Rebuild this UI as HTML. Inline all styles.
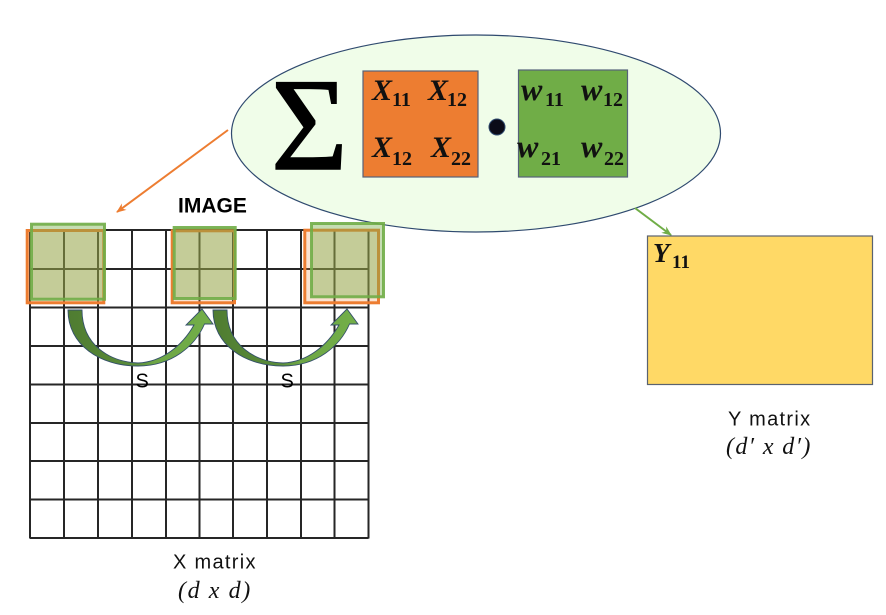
<!DOCTYPE html>
<html><head><meta charset="utf-8"><style>
html,body{margin:0;padding:0;background:#fff;}
svg{display:block;}
</style></head><body>
<svg width="886" height="615" viewBox="0 0 886 615" xmlns="http://www.w3.org/2000/svg">
<defs>
<linearGradient id="ag" x1="0" y1="0" x2="1" y2="0">
<stop offset="0" stop-color="#4f7c31"/><stop offset="0.45" stop-color="#5a8c3a"/><stop offset="0.6" stop-color="#6ea646"/><stop offset="1" stop-color="#72af48"/>
</linearGradient>
<marker id="mo" markerWidth="10" markerHeight="8" refX="9" refY="4" orient="auto" markerUnits="userSpaceOnUse"><path d="M0,0 L10,4 L0,8 L3,4 Z" fill="#ed7d31"/></marker>
<marker id="mg" markerWidth="10" markerHeight="8" refX="9" refY="4" orient="auto" markerUnits="userSpaceOnUse"><path d="M0,0 L10,4 L0,8 L3,4 Z" fill="#70ad47"/></marker>
</defs>

<!-- ellipse -->
<ellipse cx="476" cy="133.5" rx="244.5" ry="98.5" fill="#f0fde9" stroke="#2f4a6f" stroke-width="1.2"/>

<!-- sigma -->
<text x="271" y="169" font-family="Liberation Serif, serif" font-size="132" fill="#000" stroke="#000" stroke-width="1.5">Σ</text>

<!-- orange box -->
<rect x="363" y="71" width="115" height="106" fill="#ed7d31" stroke="#56627a" stroke-width="1.2"/>
<g font-family="Liberation Serif, serif" fill="#111">
<text x="372" y="100" font-size="30" font-weight="bold" font-style="italic">X</text>
<text x="392" y="106" font-size="20" font-weight="bold">11</text>
<text x="428" y="100" font-size="30" font-weight="bold" font-style="italic">X</text>
<text x="447" y="106" font-size="20" font-weight="bold">12</text>
<text x="372" y="157" font-size="30" font-weight="bold" font-style="italic">X</text>
<text x="392" y="165" font-size="20" font-weight="bold">12</text>
<text x="431" y="157" font-size="30" font-weight="bold" font-style="italic">X</text>
<text x="451" y="165" font-size="20" font-weight="bold">22</text>
</g>

<!-- dot -->
<circle cx="497" cy="127" r="8" fill="#0b0b18" stroke="#2f4a6f" stroke-width="1"/>

<!-- green box -->
<rect x="518.5" y="70" width="109" height="107" fill="#70ad47" stroke="#56627a" stroke-width="1.2"/>
<g font-family="Liberation Serif, serif" fill="#111">
<text x="521" y="100" font-size="32" font-weight="bold" font-style="italic">w</text>
<text x="545" y="106" font-size="20" font-weight="bold">11</text>
<text x="581" y="100" font-size="32" font-weight="bold" font-style="italic">w</text>
<text x="603" y="106" font-size="20" font-weight="bold">12</text>
<text x="517" y="157" font-size="32" font-weight="bold" font-style="italic">w</text>
<text x="541" y="165" font-size="20" font-weight="bold">21</text>
<text x="581" y="157" font-size="32" font-weight="bold" font-style="italic">w</text>
<text x="604" y="165" font-size="20" font-weight="bold">22</text>
</g>

<!-- connectors -->
<line x1="228" y1="130" x2="117" y2="212" stroke="#ed7d31" stroke-width="2" marker-end="url(#mo)"/>
<line x1="635" y1="208" x2="671" y2="235" stroke="#70ad47" stroke-width="2" marker-end="url(#mg)"/>

<!-- IMAGE -->
<text x="178" y="212.5" font-family="Liberation Sans, sans-serif" font-size="21" font-weight="bold" fill="#000">IMAGE</text>

<!-- grid -->
<g stroke="#262626" stroke-width="2" fill="none">
<line x1="30" y1="230" x2="30" y2="538.5"/>
<line x1="64" y1="230" x2="64" y2="538.5"/>
<line x1="98" y1="230" x2="98" y2="538.5"/>
<line x1="132" y1="230" x2="132" y2="538.5"/>
<line x1="166" y1="230" x2="166" y2="538.5"/>
<line x1="199.5" y1="230" x2="199.5" y2="538.5"/>
<line x1="233" y1="230" x2="233" y2="538.5"/>
<line x1="267" y1="230" x2="267" y2="538.5"/>
<line x1="301" y1="230" x2="301" y2="538.5"/>
<line x1="334.5" y1="230" x2="334.5" y2="538.5"/>
<line x1="368.5" y1="230" x2="368.5" y2="538.5"/>
<line x1="30" y1="230" x2="368.5" y2="230"/>
<line x1="30" y1="269" x2="368.5" y2="269"/>
<line x1="30" y1="307.5" x2="368.5" y2="307.5"/>
<line x1="30" y1="346" x2="368.5" y2="346"/>
<line x1="30" y1="384.5" x2="368.5" y2="384.5"/>
<line x1="30" y1="423" x2="368.5" y2="423"/>
<line x1="30" y1="461" x2="368.5" y2="461"/>
<line x1="30" y1="499.5" x2="368.5" y2="499.5"/>
<line x1="30" y1="538" x2="368.5" y2="538"/>
</g>

<!-- patches -->
<g>
<rect x="27.2" y="230.5" width="76.6" height="72.3" fill="rgba(240,140,70,0.25)" stroke="#ed7d31" stroke-width="3"/>
<rect x="31.5" y="224.2" width="73" height="75" fill="rgba(120,175,75,0.42)" stroke="#70ad47" stroke-opacity="0.9" stroke-width="3"/>
<rect x="172.2" y="230.8" width="62.3" height="72" fill="rgba(240,140,70,0.25)" stroke="#ed7d31" stroke-width="3"/>
<rect x="174.2" y="227.5" width="61" height="71" fill="rgba(120,175,75,0.42)" stroke="#70ad47" stroke-opacity="0.9" stroke-width="3"/>
<rect x="304.8" y="230.2" width="73.7" height="72.6" fill="rgba(240,140,70,0.25)" stroke="#ed7d31" stroke-width="3"/>
<rect x="311.5" y="223.5" width="72" height="73.3" fill="rgba(120,175,75,0.42)" stroke="#70ad47" stroke-opacity="0.9" stroke-width="3"/>
</g>

<!-- curved arrows -->
<path d="M68,310 C68,345 100,366 138,366 C172,366 195,346 204.5,324 L213,324 L202,309 L186,325 L194,325 C182,346 162,362 138,363 C110,362 82,345 82,310 Z" fill="url(#ag)" stroke="#34506a" stroke-width="0.9"/>
<g transform="translate(145,0)">
<path d="M68,310 C68,345 100,366 138,366 C172,366 195,346 204.5,324 L213,324 L202,309 L186,325 L194,325 C182,346 162,362 138,363 C110,362 82,345 82,310 Z" fill="url(#ag)" stroke="#34506a" stroke-width="0.9"/>
</g>

<!-- S labels -->
<g font-family="Liberation Sans, sans-serif" font-size="20" fill="#000">
<text x="135.5" y="387.5">S</text>
<text x="280.5" y="387.5">S</text>
</g>

<!-- X matrix label -->
<text x="173" y="568.5" font-family="Liberation Sans, sans-serif" font-size="20" fill="#111" letter-spacing="1.3">X matrix</text>
<text x="178" y="598" font-family="Liberation Serif, serif" font-size="24" font-style="italic" fill="#111" letter-spacing="1.6">(d x d)</text>

<!-- Y matrix -->
<rect x="647.5" y="236" width="225" height="148.5" fill="#ffd966" stroke="#5a6270" stroke-width="1.2"/>
<text x="653" y="262" font-family="Liberation Serif, serif" font-size="27" font-weight="bold" font-style="italic" fill="#111">Y</text>
<text x="672" y="268" font-family="Liberation Serif, serif" font-size="19" font-weight="bold" fill="#111">11</text>
<text x="728" y="425.5" font-family="Liberation Sans, sans-serif" font-size="20" fill="#111" letter-spacing="1.3">Y matrix</text>
<text x="726" y="454" font-family="Liberation Serif, serif" font-size="24" font-style="italic" fill="#111" letter-spacing="1.4">(d′ x d′)</text>
</svg>
</body></html>
